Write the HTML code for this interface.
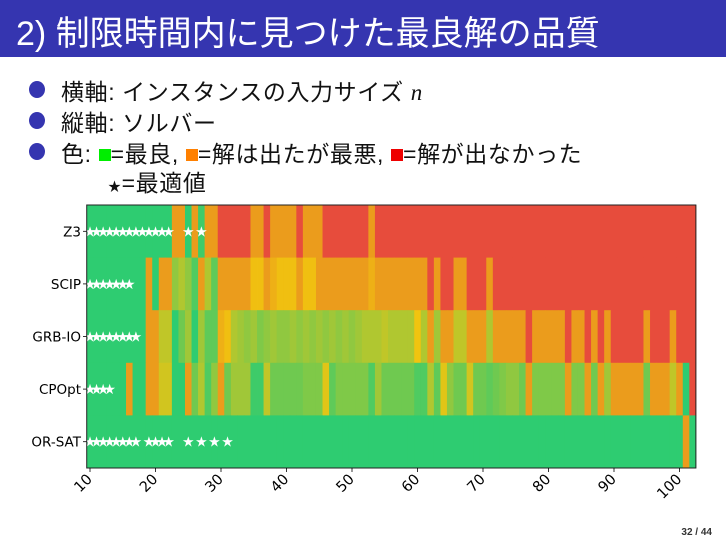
<!DOCTYPE html>
<html><head><meta charset="utf-8">
<style>
body{margin:0;width:726px;height:544px;overflow:hidden;background:#fff;font-family:"Liberation Sans","Noto Sans CJK JP",sans-serif;position:relative}
#hdr{position:absolute;left:0;top:0;width:726px;height:57px;background:#3535b0}
#title{position:absolute;left:16px;top:6px;color:#fff;font-size:34px;white-space:nowrap}
.b{position:absolute;left:29px;width:16px;height:17px;border-radius:50%;background:#3535b0}
.t{position:absolute;left:61px;font-size:23px;letter-spacing:0.6px;white-space:nowrap;color:#111}
.sq{display:inline-block;width:12px;height:12px;vertical-align:1px}
#pg{position:absolute;right:14px;top:527px;font-size:10px;font-weight:bold;color:#333}
</style></head><body>
<div id="hdr"><div id="title">2) 制限時間内に見つけた最良解の品質</div></div>
<div class="b" style="top:81px"></div>
<div class="t" style="top:73px">横軸: インスタンスの入力サイズ <i style="font-family:'Liberation Serif',serif">n</i></div>
<div class="b" style="top:112px"></div>
<div class="t" style="top:104px">縦軸: ソルバー</div>
<div class="b" style="top:143px"></div>
<div class="t" style="top:135px">色: <span class="sq" style="background:#00ee00"></span>=最良, <span class="sq" style="background:#ff8000"></span>=解は出たが最悪, <span class="sq" style="background:#ee0000"></span>=解が出なかった</div>
<div class="t" style="top:164px;left:108px"><span style="font-size:13px">★</span>=最適値</div>
<svg id="chart" width="726" height="544" style="position:absolute;left:0;top:0"></svg>
<div id="pg">32 / 44</div>
<script>
const solvers=["Z3","SCIP","GRB-IO","CPOpt","OR-SAT"];
const nStart=10;
// value: 0=best(green) .. 1=worst(orange), -1=no solution(red)
const z3=[0,0,0,0,0,0,0,0,0,0,0,0,0,1,1,0,1,0.05,1,1,-1,-1,-1,-1,-1,1,1,-1,1,1,1,1,-1,1,1,1,-1,-1,-1,-1,-1,-1,-1,1,-1,-1,-1,-1,-1,-1,-1,-1,-1,-1,-1,-1,-1,-1,-1,-1,-1,-1,-1,-1,-1,-1,-1,-1,-1,-1,-1,-1,-1,-1,-1,-1,-1,-1,-1,-1,-1,-1,-1,-1,-1,-1,-1,-1,-1,-1,-1,-1,-1];
const scip=[0,0,0,0,0,0,0,0,0,1,0,1,1,0.3,0.4,0.3,0.1,1,0.4,0.15,1,1,1,1,1,0.65,0.65,1,0.8,0.65,0.65,0.65,1,0.65,0.65,1,1,1,1,1,1,1,1,0.8,1,1,1,1,1,1,1,1,-1,1,-1,-1,1,1,-1,-1,-1,1,-1,-1,-1,-1,-1,-1,-1,-1,-1,-1,-1,-1,-1,-1,-1,-1,-1,-1,-1,-1,-1,-1,-1,-1,-1,-1,-1,-1,-1,-1,-1];
const grb=[0,0,0,0,0,0,0,0,0,1,1,0.45,0.45,0,0.2,0.35,0,0.35,0.15,0.15,0.8,0.65,0.4,0.35,0.3,0.35,0.25,0.3,0.35,0.3,0.3,0.35,0.3,0.35,0.3,0.35,0.3,0.35,0.3,0.35,0.3,0.35,0.4,0.4,0.4,0.45,0.4,0.4,0.4,0.4,0.6,0.4,1,0.35,1,1,0.45,0.45,1,1,1,0.4,1,1,1,1,1,-1,1,1,1,1,1,-1,1,1,-1,1,-1,1,-1,-1,-1,-1,-1,1,-1,-1,-1,1,-1,-1,-1];
const cpopt=[0,0,0,0,0,0,1,0,0,1,1,0.5,0.5,0,0,1,0.2,0.4,0.1,0.3,1,0.2,0.35,0.35,0.35,0.05,0.05,0.45,0.2,0.2,0.2,0.2,0.2,0.25,0.25,0.25,0.55,0.15,0.25,0.25,0.25,0.25,0.25,0.1,0.35,0.2,0.2,0.2,0.2,0.2,0.1,0.1,0.4,0.15,0.55,0.3,0.2,0.2,0.5,0.2,0.2,0.15,0.2,0.25,0.3,0.3,0.2,1,0.25,0.25,0.25,0.25,0.25,1,0.25,0.25,1,0.2,1,0.35,1,1,1,1,1,0.2,1,1,1,0.45,1,0,-1];
const orsat=[0,0,0,0,0,0,0,0,0,0,0,0,0,0,0,0,0,0,0,0,0,0,0,0,0,0,0,0,0,0,0,0,0,0,0,0,0,0,0,0,0,0,0,0,0,0,0,0,0,0,0,0,0,0,0,0,0,0,0,0,0,0,0,0,0,0,0,0,0,0,0,0,0,0,0,0,0,0,0,0,0,0,0,0,0,0,0,0,0,0,0,1,0];
const rows=[z3,scip,grb,cpopt,orsat];
const starsZ3=[10,11,12,13,14,15,16,17,18,19,20,21,22,25,27];
const starsSCIP=[10,11,12,13,14,15,16];
const starsGRB=[10,11,12,13,14,15,16,17];
const starsCP=[10,11,12,13];
const starsOR=[10,11,12,13,14,15,16,17,19,20,21,22,25,27,29,31];
const starRows=[starsZ3,starsSCIP,starsGRB,starsCP,starsOR];
const xTicks=[10,20,30,40,50,60,70,80,90,100];

const NS="http://www.w3.org/2000/svg";
const svg=document.getElementById('chart');
const x0=90,dx=6.55,top0=205,rowH=52.6;
const xs=n=>x0+(n-nStart)*dx;
const yr=i=>top0+i*rowH;
function mk(t,a){const e=document.createElementNS(NS,t);for(const k in a)e.setAttribute(k,a[k]);svg.appendChild(e);return e;}
function lerp(a,b,t){return a.map((v,i)=>Math.round(v+(b[i]-v)*t));}
function col(v){
  if(v<0)return "rgb(231,76,60)";
  const g=[46,204,113],y=[241,196,15],o=[235,156,28];
  let c=v<0.6?lerp(g,y,v/0.6):lerp(y,o,(v-0.6)/0.4);
  return `rgb(${c[0]},${c[1]},${c[2]})`;
}
rows.forEach((r,i)=>{
  r.forEach((v,j)=>{
    const n=nStart+j;
    const c=mk('rect',{x:xs(n)-dx/2,y:yr(i),width:dx+0.4,height:rowH+0.4,fill:col(v)});
    
    
  });
  starRows[i].forEach(n=>{
    const s=mk('text',{x:xs(n),y:yr(i)+rowH/2+5,'text-anchor':'middle','font-size':'14',fill:'#fff','font-family':'DejaVu Sans,sans-serif'});
    s.textContent='★';
    
    
  });
  const l=mk('text',{x:81,y:yr(i)+rowH/2+5,'text-anchor':'end','font-size':'13.5',fill:'#000','font-family':'DejaVu Sans,sans-serif'});
  l.textContent=solvers[i];
  
  
  mk('line',{x1:83,x2:87,y1:yr(i)+rowH/2,y2:yr(i)+rowH/2,stroke:'#000','stroke-width':0.8});
});
const right=xs(nStart+rows[0].length-1)+dx/2;
const frame=mk('rect',{x:xs(nStart)-dx/2,y:top0,width:right-(xs(nStart)-dx/2),height:rowH*5,fill:'none',stroke:'#222','stroke-width':1});


xTicks.forEach(t=>{
  const x=xs(t),yb=top0+rowH*5;
  mk('line',{x1:x,x2:x,y1:yb,y2:yb+4,stroke:'#000','stroke-width':0.8});
  const tx=mk('text',{x:x+3,y:yb+12,'text-anchor':'end','font-size':'14.5',fill:'#000','font-family':'DejaVu Sans,sans-serif',transform:`rotate(-45 ${x+3} ${yb+12})`});
  tx.textContent=t;
  
  
});
</script>
</body></html>
